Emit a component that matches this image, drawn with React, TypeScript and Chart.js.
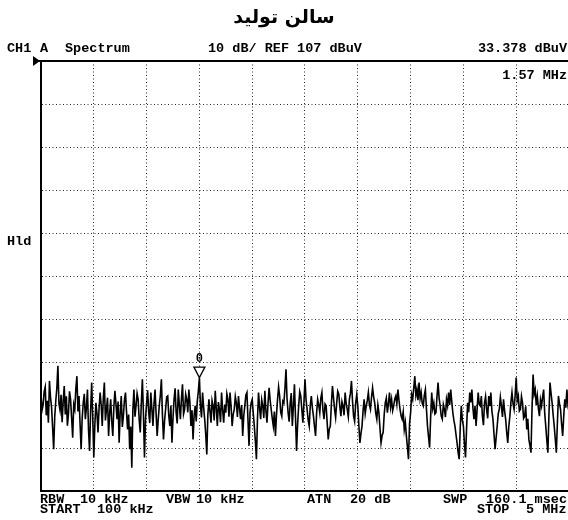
import React, { useEffect, useRef } from "react";
import { Chart, registerables } from "chart.js";

Chart.register(...registerables);

// ---- data ----
const titleText = "سالن تولید";
const startMHz = 0.1;
const stopMHz = 5;
const refLevel = 107;
const dbPerDiv = 10;
const xGridMHz = [0.1, 0.59, 1.08, 1.57, 2.06, 2.55, 3.04, 3.53, 4.02, 4.51, 5.0];
const yGridDb = [7, 17, 27, 37, 47, 57, 67, 77, 87, 97, 107];
const markerMHz = 1.57;
const markerDb = 33.378;
const markerLabel = "0";

// sweep trace, dBuV, 50 sweep points per horizontal division (501 points total)
const div1 = [29.5, 25.8, 27.0, 30.1, 31.2, 24.6, 28.0, 22.9, 32.6, 28.8, 26.5, 21.7, 16.7, 24.2, 28.0, 30.9, 36.1, 27.3, 25.8, 29.4, 23.0, 27.9, 31.4, 24.8, 29.0, 22.2, 25.0, 30.2, 28.3, 24.0, 19.4, 27.1, 26.0, 30.8, 33.7, 25.5, 29.1, 22.6, 16.7, 23.9, 27.5, 29.6, 23.7, 26.4, 30.6, 21.2, 16.3, 25.7, 32.2, 24.1];
const div2 = [14.8, 22.4, 27.5, 25.0, 20.6, 26.3, 29.9, 27.0, 22.1, 28.6, 32.2, 23.4, 26.0, 28.7, 19.8, 24.9, 28.3, 23.1, 19.8, 26.6, 30.3, 27.2, 23.7, 27.8, 18.2, 25.3, 29.1, 21.9, 24.4, 28.1, 29.9, 25.4, 21.3, 24.8, 16.7, 22.0, 12.4, 25.9, 30.6, 24.3, 26.8, 29.7, 28.3, 23.5, 20.6, 27.4, 33.0, 25.1, 14.8, 23.8];
const div3 = [27.5, 30.4, 25.2, 22.8, 29.9, 26.1, 22.1, 27.3, 30.6, 25.0, 19.8, 23.6, 26.8, 29.2, 33.0, 24.7, 19.0, 23.3, 26.0, 28.9, 29.1, 24.5, 22.1, 26.9, 18.2, 24.0, 28.3, 30.9, 25.2, 22.7, 30.6, 27.1, 23.7, 28.5, 31.8, 24.9, 26.0, 29.5, 28.3, 25.3, 30.6, 27.6, 22.1, 25.8, 19.0, 24.6, 26.8, 23.2, 27.9, 30.2];
const div4 = [33.378, 26.8, 24.1, 29.9, 26.5, 23.7, 20.2, 15.5, 24.7, 28.3, 25.6, 22.9, 28.0, 26.8, 23.4, 30.3, 26.2, 22.1, 27.7, 26.0, 23.0, 29.9, 25.9, 22.9, 27.1, 25.2, 29.6, 28.3, 24.3, 29.9, 26.7, 22.1, 24.8, 26.0, 29.0, 27.5, 24.2, 29.1, 26.3, 23.7, 27.0, 19.8, 24.5, 26.8, 29.3, 29.9, 23.6, 17.5, 25.4, 27.5];
const div5 = [28.3, 25.1, 22.1, 18.6, 14.4, 23.8, 29.9, 26.4, 23.7, 28.2, 26.8, 24.0, 30.3, 25.6, 22.9, 27.4, 31.0, 28.1, 26.0, 23.9, 22.1, 25.5, 19.8, 24.7, 28.3, 31.2, 29.1, 25.3, 24.4, 27.9, 27.5, 30.8, 35.3, 28.4, 25.2, 23.1, 27.5, 29.8, 22.1, 26.7, 31.8, 24.2, 16.3, 22.5, 26.8, 30.1, 29.1, 25.9, 22.9, 27.6];
const div6 = [33.0, 28.2, 26.0, 23.5, 22.1, 26.9, 29.1, 26.3, 24.4, 22.0, 19.8, 25.1, 28.3, 27.0, 25.2, 28.6, 29.9, 25.8, 23.7, 27.2, 26.8, 22.9, 19.0, 21.4, 22.1, 27.3, 31.4, 28.7, 26.0, 24.1, 27.5, 30.2, 29.5, 26.6, 24.4, 27.8, 26.8, 24.6, 29.9, 27.4, 26.0, 24.3, 28.3, 29.7, 32.6, 27.9, 24.4, 23.2, 27.5, 29.4];
const div7 = [26.8, 22.3, 18.2, 20.4, 22.1, 25.7, 28.3, 25.0, 26.8, 28.0, 29.9, 27.1, 26.0, 28.8, 31.0, 28.9, 27.5, 25.1, 23.7, 27.0, 25.2, 21.6, 18.2, 19.9, 20.6, 24.8, 27.5, 28.6, 25.2, 27.3, 29.9, 26.5, 28.3, 25.7, 26.8, 28.4, 29.1, 27.2, 30.6, 28.1, 26.0, 24.5, 23.7, 25.4, 21.3, 23.0, 19.8, 17.2, 14.4, 22.6];
const div8 = [25.2, 29.4, 28.3, 31.0, 33.7, 29.2, 30.6, 28.1, 32.2, 28.5, 29.9, 27.4, 26.8, 29.3, 30.6, 26.1, 22.1, 19.6, 17.1, 24.3, 29.9, 26.2, 27.5, 24.9, 25.2, 29.0, 32.2, 28.6, 26.8, 24.4, 23.7, 27.1, 26.0, 24.2, 28.3, 26.9, 29.9, 27.0, 30.6, 27.8, 25.2, 23.4, 22.1, 20.1, 18.2, 16.0, 14.4, 21.7, 26.8, 23.5];
const div9 = [22.1, 17.9, 14.8, 21.5, 27.5, 25.3, 29.9, 27.6, 30.6, 26.4, 23.7, 26.8, 22.1, 26.1, 29.9, 27.2, 26.8, 29.1, 24.4, 22.3, 27.5, 29.0, 26.0, 23.9, 29.1, 26.7, 29.9, 25.6, 23.7, 20.2, 16.7, 19.4, 22.1, 25.0, 26.0, 28.8, 26.8, 24.2, 28.3, 25.7, 23.7, 20.7, 18.2, 22.0, 24.4, 27.6, 29.9, 27.3, 26.0, 29.2];
const div10 = [33.4, 28.0, 29.1, 25.6, 26.0, 29.0, 27.5, 23.9, 24.4, 26.7, 21.3, 23.8, 19.0, 17.6, 15.9, 26.3, 34.1, 29.5, 30.6, 27.0, 29.1, 26.2, 24.4, 28.2, 26.8, 28.9, 30.6, 25.1, 22.1, 18.8, 15.9, 24.6, 32.2, 29.8, 27.5, 24.7, 22.1, 19.1, 15.9, 22.8, 29.1, 27.3, 26.0, 22.6, 19.8, 24.3, 28.3, 26.4, 30.6, 27.2];
const lastPoint = [28.5];

const traceDb = [...div1, ...div2, ...div3, ...div4, ...div5, ...div6, ...div7, ...div8, ...div9, ...div10, ...lastPoint];

// annotation texts
const headerCh = "CH1";
const headerTrace = "A";
const headerMode = "Spectrum";
const headerScale = "10 dB/ REF 107 dBuV";
const headerMarkerLevel = "33.378 dBuV";
const headerMarkerFreq = "1.57 MHz";
const sideLabel = "Hld";
const footA = [
  ["RBW", 40], ["10 kHz", 80], ["VBW", 166], ["10 kHz", 196], ["ATN", 307], ["20 dB", 350], ["SWP", 443], ["160.1 msec", 486],
] as [string, number][];
const footB = [
  ["START", 40], ["100 kHz", 97], ["STOP", 477], ["5 MHz", 526],
] as [string, number][];

const MONO = 'bold 13.5px "Liberation Mono", "DejaVu Sans Mono", monospace';

const decor = {
  id: "decor",
  afterDatasetsDraw(chart: any) {
    const { ctx, scales } = chart;
    const px = scales.x.getPixelForValue(markerMHz);
    const py = scales.y.getPixelForValue(markerDb);
    ctx.save();
    ctx.beginPath();
    ctx.moveTo(px - 5.5, py - 10.5);
    ctx.lineTo(px + 5.5, py - 10.5);
    ctx.lineTo(px, py);
    ctx.closePath();
    ctx.fillStyle = "#fff";
    ctx.fill();
    ctx.lineWidth = 1.3;
    ctx.strokeStyle = "#000";
    ctx.stroke();
    ctx.fillStyle = "#000";
    ctx.font = 'bold 12px "Liberation Mono", monospace';
    ctx.textAlign = "center";
    ctx.textBaseline = "middle";
    ctx.fillText(markerLabel, px, py - 18.5);
    ctx.restore();
  },
  afterDraw(chart: any) {
    const { ctx, chartArea } = chart;
    const { left, top } = chartArea;
    ctx.save();
    // top frame line
    ctx.strokeStyle = "#000";
    ctx.lineWidth = 2;
    ctx.beginPath();
    ctx.moveTo(38, top);
    ctx.lineTo(chart.width, top);
    ctx.stroke();
    // reference level pointer
    ctx.fillStyle = "#000";
    ctx.beginPath();
    ctx.moveTo(left - 8, top - 5);
    ctx.lineTo(left - 8, top + 5);
    ctx.lineTo(left - 1, top);
    ctx.closePath();
    ctx.fill();

    // title
    ctx.font = 'bold 19px "DejaVu Sans", sans-serif';
    ctx.textAlign = "center";
    ctx.textBaseline = "middle";
    ctx.fillText(titleText, 284, 18);

    // header texts
    ctx.font = MONO;
    ctx.textAlign = "left";
    ctx.fillText(headerCh, 7, 49);
    ctx.fillText(headerTrace, 40, 49);
    ctx.fillText(headerMode, 65, 49);
    ctx.fillText(headerScale, 208, 49);
    ctx.textAlign = "right";
    ctx.fillText(headerMarkerLevel, 567, 49);
    ctx.fillText(headerMarkerFreq, 567, 76);
    ctx.textAlign = "left";
    ctx.fillText(sideLabel, 7, 242);
    footA.forEach(([t, x]) => ctx.fillText(t, x, 500));
    footB.forEach(([t, x]) => ctx.fillText(t, x, 510));
    ctx.restore();
  },
};

const gridColor = (c: any) => (c.index === 0 ? "rgba(0,0,0,0)" : "rgba(0,0,0,0.85)");

export default function App() {
  const ref = useRef<HTMLCanvasElement | null>(null);
  useEffect(() => {
    document.body.style.margin = "0";
    const canvas = ref.current;
    if (!canvas) return;
    const n = traceDb.length;
    const points = traceDb.map((v, i) => ({ x: startMHz + (i * (stopMHz - startMHz)) / (n - 1), y: v }));
    const chart = new Chart(canvas, {
      type: "line",
      data: {
        datasets: [
          {
            data: points,
            borderColor: "#000",
            borderWidth: 1.6,
            pointRadius: 0,
            tension: 0,
            fill: false,
          },
        ],
      },
      options: {
        responsive: false,
        animation: false,
        devicePixelRatio: 1,
        events: [],
        layout: { padding: { left: 41, right: 7, top: 61, bottom: 29 } },
        plugins: { legend: { display: false }, title: { display: false }, tooltip: { enabled: false } },
        scales: {
          x: {
            type: "linear",
            min: startMHz,
            max: stopMHz,
            afterBuildTicks: (s: any) => {
              s.ticks = xGridMHz.map((v) => ({ value: v }));
            },
            ticks: { display: false },
            grid: { color: gridColor, lineWidth: 1, drawTicks: false },
            border: { display: true, color: "#000", width: 2, dash: [1, 2.5] },
          },
          y: {
            type: "linear",
            min: refLevel - 10 * dbPerDiv,
            max: refLevel,
            afterBuildTicks: (s: any) => {
              s.ticks = yGridDb.map((v) => ({ value: v }));
            },
            ticks: { display: false },
            grid: { color: gridColor, lineWidth: 1, drawTicks: false },
            border: { display: true, color: "#000", width: 2, dash: [1, 2.5] },
          },
        },
      } as any,
      plugins: [decor],
    });
    return () => chart.destroy();
  }, []);
  return (
    <div style={{ width: 568, height: 520, overflow: "hidden", position: "relative", background: "#fff" }}>
      <canvas ref={ref} width={576} height={520} style={{ display: "block", width: 576, height: 520 }} />
    </div>
  );
}
